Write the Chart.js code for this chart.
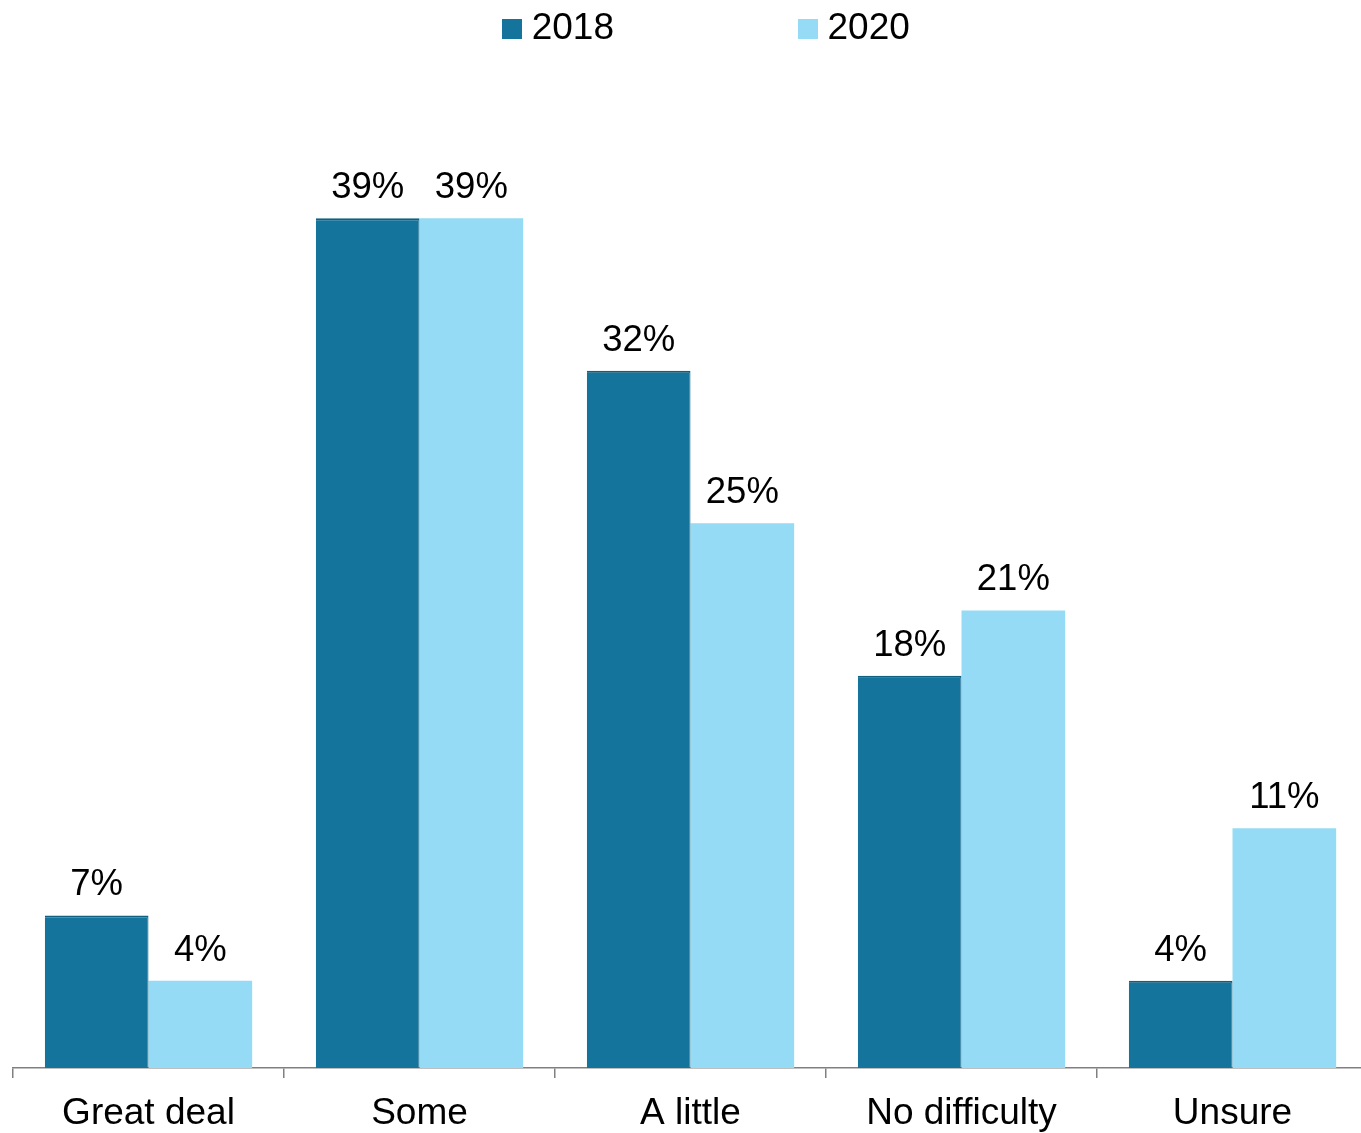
<!DOCTYPE html>
<html>
<head>
<meta charset="utf-8">
<script src="https://cdn.jsdelivr.net/npm/chart.js@4.4.1/dist/chart.umd.min.js"></script>
<style>
  html, body { margin: 0; padding: 0; background: #fff; overflow: hidden; }
  /* last category runs a few px past the right edge of the window */
  #wrap { width: 1368px; height: 1133px; }
</style>
</head>
<body>
<div id="wrap"><canvas id="difficultyChart"></canvas></div>
<script>
'use strict';

var categories = ['Great deal', 'Some', 'A little', 'No difficulty', 'Unsure'];
var seriesNames = ['2018', '2020'];
var values2018 = [7, 39, 32, 18, 4];
var values2020 = [4, 39, 25, 21, 11];
var seriesColors = ['#15749b', '#95dbf5'];

var fontFamily = 'Arial, "Liberation Sans", Helvetica, sans-serif';

// small square used as the legend marker
function legendSwatch(color) {
  var c = document.createElement('canvas');
  c.width = 20;
  c.height = 20;
  var g = c.getContext('2d');
  g.fillStyle = color;
  g.fillRect(0, 0, 20, 20);
  return c;
}

// percentage text above every bar
var barValueLabels = {
  id: 'barValueLabels',
  afterDatasetsDraw: function (chart) {
    var ctx = chart.ctx;
    ctx.save();
    ctx.font = '36.5px ' + fontFamily;
    ctx.fillStyle = '#000';
    ctx.textAlign = 'center';
    ctx.textBaseline = 'alphabetic';
    chart.data.datasets.forEach(function (ds, i) {
      chart.getDatasetMeta(i).data.forEach(function (bar, j) {
        ctx.fillText(ds.data[j] + '%', bar.x, bar.y - 20);
      });
    });
    ctx.restore();
  }
};

// legend row sits a little right of centre
var legendShift = {
  id: 'legendShift',
  afterLayout: function (chart) {
    chart.legend.left += 20;
    chart.legend.right += 20;
  }
};

var ctx = document.getElementById('difficultyChart').getContext('2d');
var difficultyChart = new Chart(ctx, {
  type: 'bar',
  data: {
    labels: categories,
    datasets: [{
      label: seriesNames[0],
      data: values2018,
      backgroundColor: seriesColors[0],
      borderColor: '#0e5f80',
      borderWidth: { top: 2, right: 1, left: 0, bottom: 0 },
      barPercentage: 1,
      categoryPercentage: 0.765
    }, {
      label: seriesNames[1],
      data: values2020,
      backgroundColor: seriesColors[1],
      borderWidth: 0,
      barPercentage: 1,
      categoryPercentage: 0.765
    }]
  },
  options: {
    responsive: true,
    maintainAspectRatio: false,
    animation: false,
    // big legend padding spaces the two items apart; negative top pulls the row back up
    layout: { padding: { top: -183, left: 13, right: 0, bottom: 0 } },
    plugins: {
      legend: {
        position: 'top',
        align: 'center',
        labels: {
          usePointStyle: true,
          boxWidth: 2,
          boxHeight: 20,
          padding: 193,
          color: '#000',
          font: { size: 37, family: fontFamily },
          generateLabels: function (chart) {
            var items = Chart.defaults.plugins.legend.labels.generateLabels(chart);
            items.forEach(function (item, i) {
              item.pointStyle = legendSwatch(seriesColors[i]);
            });
            return items;
          }
        }
      },
      tooltip: { enabled: false }
    },
    scales: {
      x: {
        grid: {
          offset: true,
          drawOnChartArea: false,
          drawTicks: true,
          tickLength: 10,
          color: '#808080',
          lineWidth: 1.5
        },
        border: { display: true, color: '#808080', width: 1.5 },
        ticks: {
          color: '#000',
          padding: 14,
          maxRotation: 0,
          font: { size: 37, family: fontFamily }
        },
        afterFit: function (scale) { scale.height = 65; }
      },
      y: { display: false, min: 0, max: 46.4 }
    }
  },
  plugins: [barValueLabels, legendShift]
});
</script>
</body>
</html>
